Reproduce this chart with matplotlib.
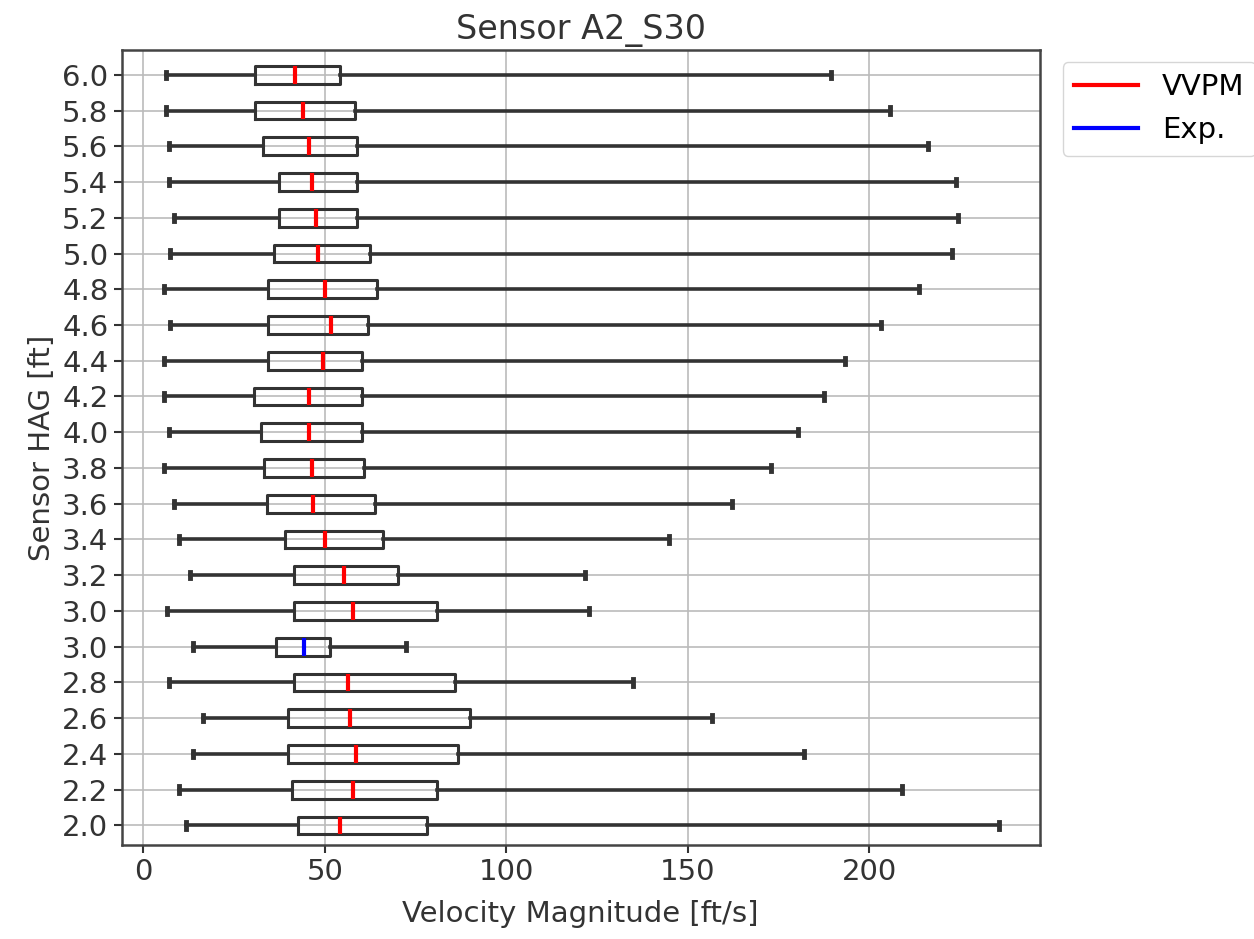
import matplotlib.pyplot as plt
from matplotlib.lines import Line2D

# Row labels, bottom to top (the 3.0 row appears twice: VVPM and Exp.)
labels = ['2.0', '2.2', '2.4', '2.6', '2.8', '3.0', '3.0', '3.2', '3.4', '3.6', '3.8',
          '4.0', '4.2', '4.4', '4.6', '4.8', '5.0', '5.2', '5.4', '5.6', '5.8', '6.0']
source = ['VVPM'] * 5 + ['Exp.'] + ['VVPM'] * 16

# box statistics [ft/s]
whislo = [11.8, 9.9, 13.6, 16.5, 7.0, 13.6, 6.5, 12.9, 9.9, 8.3, 5.8,
          7.0, 5.8, 5.8, 7.2, 5.8, 7.3, 8.3, 7.0, 7.0, 6.2, 6.2]
q1 = [42.5, 40.9, 39.8, 39.8, 41.6, 36.5, 41.6, 41.6, 39.1, 34.1, 33.3,
      32.4, 30.6, 34.3, 34.3, 34.3, 36.1, 37.3, 37.3, 33.1, 30.8, 30.8]
med = [54.2, 57.7, 58.6, 56.9, 56.3, 44.4, 57.7, 55.4, 50.0, 46.8, 46.4,
       45.7, 45.7, 49.4, 51.7, 50.0, 48.2, 47.7, 46.4, 45.7, 44.1, 41.8]
q3 = [78.3, 80.8, 86.8, 90.1, 85.9, 51.5, 80.8, 70.1, 66.1, 63.8, 60.9,
      60.2, 60.2, 60.2, 62.0, 64.3, 62.4, 59.0, 59.0, 59.0, 58.3, 54.3]
whishi = [235.8, 209.0, 182.0, 156.7, 135.0, 72.5, 122.7, 121.8, 144.9, 162.3, 172.9,
          180.4, 187.6, 193.3, 203.2, 213.8, 222.8, 224.5, 223.9, 216.3, 205.7, 189.4]

colors = {'VVPM': 'red', 'Exp.': 'blue'}

stats = []
for i in range(len(labels)):
    stats.append(dict(whislo=whislo[i], q1=q1[i], med=med[i], q3=q3[i],
                      whishi=whishi[i], fliers=[], label=labels[i]))

fig = plt.figure(figsize=(12.54, 9.39), dpi=100)
ax = fig.add_axes([0.097, 0.100, 0.732, 0.847])

line_col = '#333333'
bp = ax.bxp(stats, orientation='horizontal', widths=0.5, capwidths=0.18,
            boxprops=dict(color=line_col, linewidth=2.2),
            whiskerprops=dict(color=line_col, linewidth=2.6),
            capprops=dict(color=line_col, linewidth=3.5),
            medianprops=dict(linewidth=3))
for m, s in zip(bp['medians'], source):
    m.set_color(colors[s])

ax.set_xlim(-6, 247)
ax.set_ylim(0.45, 22.7)
ax.grid(True, color='#bbbbbb', linewidth=1.2)
ax.set_axisbelow(True)
for sp in ax.spines.values():
    sp.set_linewidth(1.8)
    sp.set_color('#444444')

ax.tick_params(labelsize=21, colors='#333333', width=1.5, length=6)
ax.set_xticks([0, 50, 100, 150, 200])
ax.set_title('Sensor A2_S30', fontsize=24, color='#333333', pad=8)
ax.set_xlabel('Velocity Magnitude [ft/s]', fontsize=21, color='#333333', labelpad=10)
ax.set_ylabel('Sensor HAG [ft]', fontsize=21, color='#333333', labelpad=4)

handles = [Line2D([0], [0], color='red', linewidth=3),
           Line2D([0], [0], color='blue', linewidth=3)]
ax.legend(handles, ['VVPM', 'Exp.'], loc='upper left', bbox_to_anchor=(1.025, 0.985),
          fontsize=21, borderaxespad=0, handlelength=2.2)

fig.savefig('out.png', dpi=100)
